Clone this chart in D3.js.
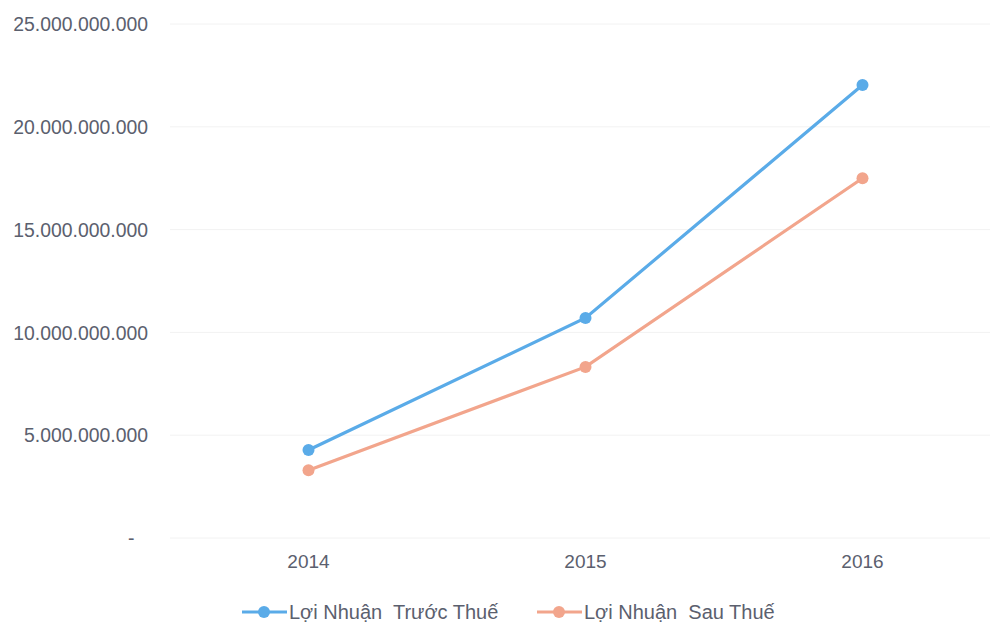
<!DOCTYPE html>
<html><head><meta charset="utf-8">
<script src="https://cdn.jsdelivr.net/npm/d3@7"></script>
<style>body{margin:0;background:#fff;} svg{display:block;}</style>
</head><body>
<svg id="c" width="995" height="631"></svg>
<script>
const categories = ["2014", "2015", "2016"];
const truocThue = [4280000000, 10700000000, 22030000000];
const sauThue = [3300000000, 8320000000, 17500000000];
const yTicks = [0, 5000000000, 10000000000, 15000000000, 20000000000, 25000000000];
const seriesNames = ["Lợi Nhuận  Trước Thuế", "Lợi Nhuận  Sau Thuế"];
const colors = ["#5aabe8", "#f2a58c"];

const svg = d3.select("#c");
const x = d3.scaleBand().domain(categories).range([170, 1001]);
const y = d3.scaleLinear().domain([0, 25000000000]).range([538, 24]);
const font = "'Liberation Sans', Arial, sans-serif";
const textColor = "#5b606e";
const fmt = v => v === 0 ? "-" : d3.format(",")(v).replace(/,/g, ".");

// gridlines
svg.append("g").selectAll("line").data(yTicks).join("line")
  .attr("x1", 170).attr("x2", 990)
  .attr("y1", d => y(d)).attr("y2", d => y(d))
  .attr("stroke", "#f2f2f2").attr("stroke-width", 1);

// y axis labels
const yAxis = d3.axisLeft(y).tickValues(yTicks).tickFormat(fmt).tickSize(0).tickPadding(0);
const gy = svg.append("g").attr("transform", "translate(148,0)").call(yAxis);
gy.select(".domain").remove();
gy.selectAll("text").attr("font-family", font).attr("font-size", 20).attr("fill", textColor)
  .attr("transform", "scale(0.97,1.05)")
  .attr("dx", (d) => d === 0 ? -14 : 0);

// x axis labels
const xAxis = d3.axisBottom(x).tickSize(0).tickPadding(0);
const gx = svg.append("g").attr("transform", "translate(0,554)").call(xAxis);
gx.select(".domain").remove();
gx.selectAll("text").attr("font-family", font).attr("font-size", 19).attr("fill", textColor).attr("dy", "0.71em");

const cx = d => x(d) + x.bandwidth() / 2;
const line = d3.line().x((d, i) => cx(categories[i])).y(d => y(d));
[truocThue, sauThue].forEach((s, k) => {
  svg.append("path").datum(s).attr("d", line).attr("fill", "none")
    .attr("stroke", colors[k]).attr("stroke-width", 3.2);
  svg.append("g").selectAll("circle").data(s).join("circle")
    .attr("cx", (d, i) => cx(categories[i])).attr("cy", d => y(d)).attr("r", 6)
    .attr("fill", colors[k]);
});

// legend
const legX = [242, 537];
seriesNames.forEach((n, k) => {
  const g = svg.append("g").attr("transform", `translate(${legX[k]},612)`);
  g.append("line").attr("x1", 0).attr("x2", 45).attr("stroke", colors[k]).attr("stroke-width", 3.2);
  g.append("circle").attr("cx", 22).attr("r", 6).attr("fill", colors[k]);
  g.append("text").attr("x", 47).attr("y", 0).attr("dy", "0.35em").text(n)
    .attr("font-family", font).attr("font-size", 20).attr("fill", textColor)
    .attr("xml:space", "preserve").style("white-space", "pre");
});
</script>
</body></html>
